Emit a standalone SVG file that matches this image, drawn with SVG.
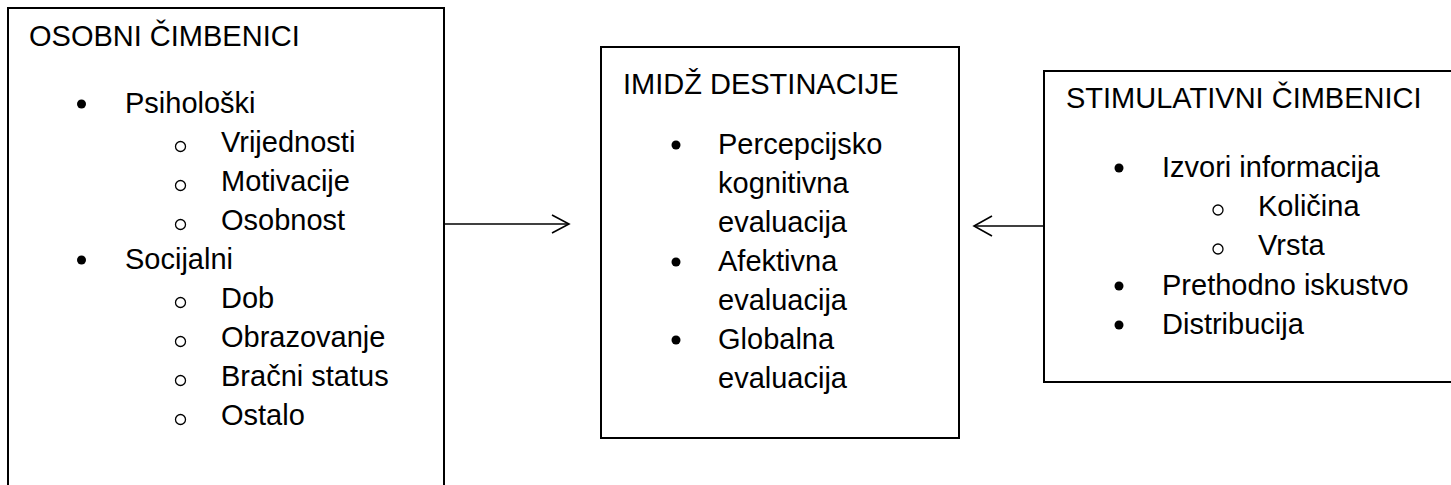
<svg xmlns="http://www.w3.org/2000/svg" width="1451" height="485" viewBox="0 0 1451 485">
<style>
.box{fill:#fff;stroke:#000;stroke-width:2}
.t{font-family:"Liberation Sans",Arial,sans-serif;font-size:29px;fill:#000}
.b{fill:#000}
.o{fill:none;stroke:#000;stroke-width:1.3}
.c{fill:none;stroke:#000;stroke-width:1.6}
</style>
<rect width="1451" height="485" fill="#fff"/>
<g id="osobni">
<rect class="box" x="8" y="8" width="436" height="490"/>
<text class="t" x="29" y="46">OSOBNI ČIMBENICI</text>
<circle class="b" cx="81.5" cy="104" r="4.5"/>
<text class="t" x="125" y="113">Psihološki</text>
<circle class="o" cx="180.5" cy="146.5" r="5"/>
<text class="t" x="221" y="152">Vrijednosti</text>
<circle class="o" cx="180.5" cy="185.5" r="5"/>
<text class="t" x="221" y="191">Motivacije</text>
<circle class="o" cx="180.5" cy="224.5" r="5"/>
<text class="t" x="221" y="230">Osobnost</text>
<circle class="b" cx="81.5" cy="260" r="4.5"/>
<text class="t" x="125" y="269">Socijalni</text>
<circle class="o" cx="180.5" cy="302.5" r="5"/>
<text class="t" x="221" y="308">Dob</text>
<circle class="o" cx="180.5" cy="341.5" r="5"/>
<text class="t" x="221" y="347">Obrazovanje</text>
<circle class="o" cx="180.5" cy="380.5" r="5"/>
<text class="t" x="221" y="386">Bračni status</text>
<circle class="o" cx="180.5" cy="419.5" r="5"/>
<text class="t" x="221" y="425">Ostalo</text>
</g>
<g id="imidz">
<rect class="box" x="601" y="47" width="358" height="391"/>
<text class="t" x="623" y="94">IMIDŽ DESTINACIJE</text>
<circle class="b" cx="676" cy="145" r="4.5"/>
<text class="t" x="718" y="154">Percepcijsko</text>
<text class="t" x="718" y="193">kognitivna</text>
<text class="t" x="718" y="232">evaluacija</text>
<circle class="b" cx="676" cy="262" r="4.5"/>
<text class="t" x="718" y="271">Afektivna</text>
<text class="t" x="718" y="310">evaluacija</text>
<circle class="b" cx="676" cy="340" r="4.5"/>
<text class="t" x="718" y="349">Globalna</text>
<text class="t" x="718" y="388">evaluacija</text>
</g>
<g id="stimulativni">
<rect class="box" x="1044" y="71" width="412" height="311"/>
<text class="t" x="1066" y="108">STIMULATIVNI ČIMBENICI</text>
<circle class="b" cx="1119" cy="168" r="4.5"/>
<text class="t" x="1162" y="177">Izvori informacija</text>
<circle class="o" cx="1218" cy="210" r="5"/>
<text class="t" x="1258" y="216">Količina</text>
<circle class="o" cx="1218" cy="249" r="5"/>
<text class="t" x="1258" y="255">Vrsta</text>
<circle class="b" cx="1119" cy="286" r="4.5"/>
<text class="t" x="1162" y="295">Prethodno iskustvo</text>
<circle class="b" cx="1119" cy="325" r="4.5"/>
<text class="t" x="1162" y="334">Distribucija</text>
</g>
<g id="connectors">
<line class="c" x1="444" y1="224" x2="569" y2="224"/>
<polyline class="c" points="552,215 569,224 552,233"/>
<line class="c" x1="1044" y1="226" x2="974" y2="226"/>
<polyline class="c" points="992,216 974,226 992,236"/>
</g>
</svg>
